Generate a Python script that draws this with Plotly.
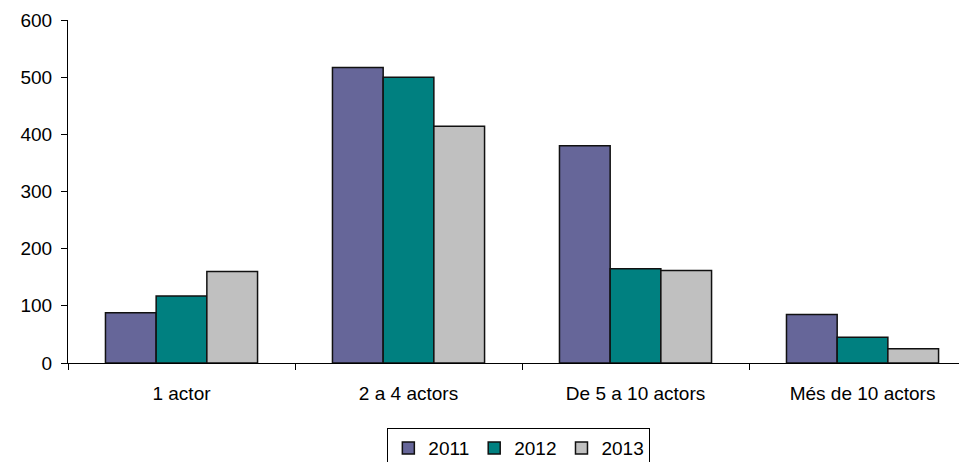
import plotly.graph_objects as go

categories = ["1 actor", "2 a 4 actors", "De 5 a 10 actors", "Més de 10 actors"]
series_names = ["2011", "2012", "2013"]
values_2011 = [88, 517, 380, 85]
values_2012 = [117, 500, 165, 45]
values_2013 = [160, 414, 162, 25]
y_ticks = [0, 100, 200, 300, 400, 500, 600]

colors = ["#666699", "#008080", "#C0C0C0"]
FONT = "Liberation Sans, Arial, sans-serif"

fig = go.Figure()
for name, vals, col in zip(series_names, [values_2011, values_2012, values_2013], colors):
    fig.add_trace(go.Bar(
        x=categories, y=vals, name=name,
        marker=dict(color=col, line=dict(color="#111111", width=1.5)),
    ))

fig.update_layout(
    width=959, height=462,
    margin=dict(l=68, r=0, t=20, b=99, autoexpand=False),
    paper_bgcolor="white", plot_bgcolor="white",
    barmode="group", bargap=0.33, bargroupgap=0,
    font=dict(family=FONT, size=19, color="black"),
    showlegend=True,
    legend=dict(
        orientation="h", x=0.506, xanchor="center", y=-0.19, yanchor="top",
        bordercolor="black", borderwidth=1, bgcolor="white",
        font=dict(family=FONT, size=19, color="black"),
        itemwidth=30, tracegroupgap=0,
    ),
)
fig.update_xaxes(
    type="category", range=[-0.5, 3.425], automargin=False,
    showline=True, linecolor="black", linewidth=1,
    ticks="outside", tickson="boundaries", ticklen=6, tickcolor="black",
    showgrid=False, zeroline=False, ticklabelstandoff=13,
)
fig.update_yaxes(
    range=[0, 600], tickvals=y_ticks, automargin=False,
    showline=True, linecolor="black", linewidth=1,
    ticks="outside", ticklen=6, tickcolor="black",
    showgrid=False, zeroline=False, ticklabelstandoff=5,
)

fig.write_html(
    "out.html",
    config={"displayModeBar": False},
    post_script="document.body.style.margin='0';document.body.style.overflow='hidden';",
)
